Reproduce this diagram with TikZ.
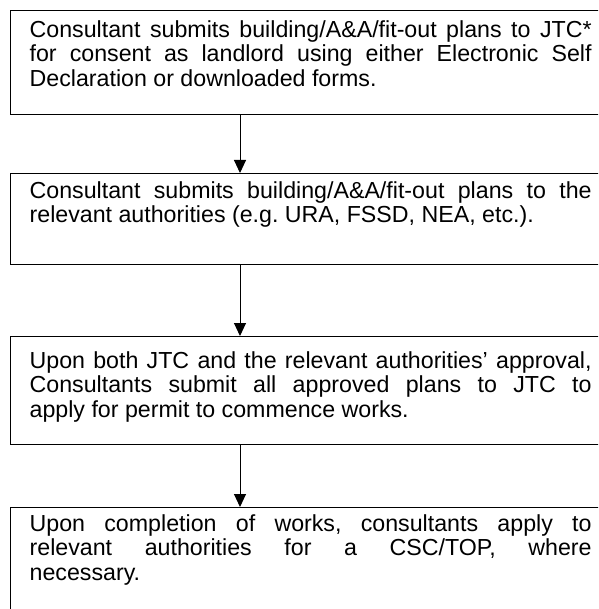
\documentclass[tikz,border=0pt]{standalone}
\usepackage{fontspec}
\setmainfont{Liberation Sans}
\usepackage{tikz}
\usetikzlibrary{arrows.meta}

% one step of the procedure: box height, first baseline, text
\newcommand{\steptext}[3]{\parbox[t][#1][t]{562pt}{\fontsize{23.2}{24.2}\selectfont\frenchspacing
  \hyphenpenalty=10000 \exhyphenpenalty=10000 \rule{0pt}{#2}#3}}

\tikzset{
  stepbox/.style={draw, line width=1.3pt, rectangle, anchor=north west, inner xsep=19pt, inner ysep=0pt},
  flow/.style={line width=1pt, -{Triangle[length=13pt,width=12pt]}}
}

\begin{document}
\begin{tikzpicture}[x=1pt,y=1pt,yscale=-1,xscale=1]
    \useasboundingbox (0,0) rectangle (598,609);
    \clip (0,0) rectangle (598,609);

    % Spine of the arrows
    \coordinate (spine) at (240,0);

    % Step 1
    \node [stepbox] (consent) at (10,10) {\steptext{104pt}{27pt}{Consultant submits building/A\&A/fit-out plans to JTC*\linebreak
      for consent as landlord using either Electronic Self\linebreak
      Declaration or downloaded forms.}};
    % Step 2
    \node [stepbox] (submit) at (10,173) {\steptext{91pt}{25pt}{Consultant submits building/A\&A/fit-out plans to the\linebreak
      relevant authorities (e.g. URA, FSSD, NEA, etc.).}};
    % Step 3
    \node [stepbox] (permit) at (10,336) {\steptext{108pt}{32pt}{Upon both JTC and the relevant authorities’ approval,\linebreak
      Consultants submit all approved plans to JTC to\linebreak
      apply for permit to commence works.}};
    % Step 4
    \node [stepbox] (completion) at (10,507) {\steptext{120pt}{24pt}{Upon completion of works, consultants apply to\linebreak
      relevant authorities for a CSC/TOP, where\linebreak
      necessary.}};

    % Arrows
    \draw [flow] (consent.south -| spine) -- (submit.north -| spine);
    \draw [flow] (submit.south -| spine) -- (permit.north -| spine);
    \draw [flow] (permit.south -| spine) -- (completion.north -| spine);

\end{tikzpicture}
\end{document}
